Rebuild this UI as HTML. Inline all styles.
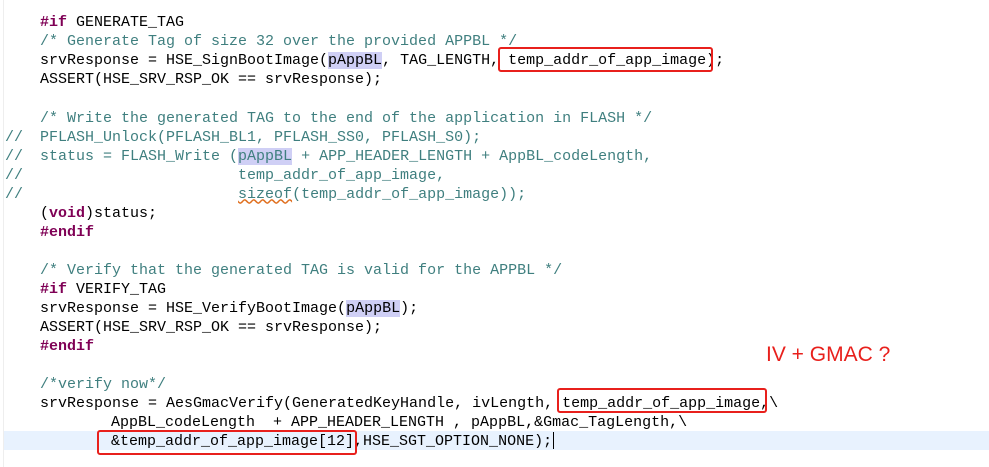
<!DOCTYPE html>
<html><head><meta charset="utf-8"><style>
body{margin:0;width:989px;height:467px;background:#fff;position:relative;overflow:hidden;font-family:"Liberation Mono",monospace;font-size:15px;}
.l{position:absolute;left:40px;white-space:pre;height:19px;line-height:19px;color:#000;margin-top:1px}
.k{color:#7f0055;font-weight:bold}
.c{color:#3f7f7f}
.h{background:#cfcff5}
.s{position:absolute;left:5px;white-space:pre;line-height:19px;color:#3f7f7f;margin-top:1px}
.box{position:absolute;border:2.5px solid #e8201c;border-radius:3px;box-sizing:border-box}
</style></head><body>
<div style="position:absolute;left:3px;top:0;width:1px;height:467px;background:#eee"></div>
<div style="position:absolute;left:4px;top:431px;width:985px;height:19px;background:#e8f2fe"></div>
<div class="l" style="top:11.5px"><span class="k">#if</span> GENERATE_TAG</div>
<div class="l c" style="top:30.5px">/* Generate Tag of size 32 over the provided APPBL */</div>
<div class="l" style="top:50px">srvResponse = HSE_SignBootImage(<span class="h">pAppBL</span>, TAG_LENGTH, temp_addr_of_app_image);</div>
<div class="l" style="top:69px">ASSERT(HSE_SRV_RSP_OK == srvResponse);</div>
<div class="l c" style="top:107.5px">/* Write the generated TAG to the end of the application in FLASH */</div>
<div class="s" style="top:126.5px">//</div>
<div class="l c" style="top:126.5px">PFLASH_Unlock(PFLASH_BL1, PFLASH_SS0, PFLASH_S0);</div>
<div class="s" style="top:145.5px">//</div>
<div class="l c" style="top:145.5px">status = FLASH_Write (<span class="h">pAppBL</span> + APP_HEADER_LENGTH + AppBL_codeLength,</div>
<div class="s" style="top:164.5px">//</div>
<div class="l c" style="top:164.5px">                      temp_addr_of_app_image,</div>
<div class="s" style="top:183.5px">//</div>
<div class="l c" style="top:183.5px">                      <span style="text-decoration:underline wavy #e07020">sizeof</span>(temp_addr_of_app_image));</div>
<div class="l" style="top:202.5px">(<span class="k">void</span>)status;</div>
<div class="l" style="top:221.5px"><span class="k">#endif</span></div>
<div class="l c" style="top:259.5px">/* Verify that the generated TAG is valid for the APPBL */</div>
<div class="l" style="top:278.5px"><span class="k">#if</span> VERIFY_TAG</div>
<div class="l" style="top:297.5px">srvResponse = HSE_VerifyBootImage(<span class="h">pAppBL</span>);</div>
<div class="l" style="top:316.5px">ASSERT(HSE_SRV_RSP_OK == srvResponse);</div>
<div class="l" style="top:335.5px"><span class="k">#endif</span></div>
<div class="l c" style="top:373.5px">/*verify now*/</div>
<div class="l" style="top:392.5px">srvResponse = AesGmacVerify(GeneratedKeyHandle, ivLength, temp_addr_of_app_image,\</div>
<div class="l" style="top:411.5px;left:111px">AppBL_codeLength  + APP_HEADER_LENGTH , pAppBL,&amp;Gmac_TagLength,\</div>
<div class="l" style="top:430.5px;left:111px">&amp;temp_addr_of_app_image[12],HSE_SGT_OPTION_NONE);</div>
<div style="position:absolute;left:553px;top:432px;width:1px;height:17px;background:#000"></div>
<div class="box" style="left:498px;top:47px;width:215px;height:25px"></div>
<div class="box" style="left:557px;top:388px;width:210px;height:25px"></div>
<div class="box" style="left:97px;top:430px;width:260px;height:25px"></div>
<div style="position:absolute;left:766px;top:343px;font-family:'Liberation Sans',sans-serif;font-size:21px;color:#e8201c;white-space:pre">IV + GMAC ?</div>
</body></html>
